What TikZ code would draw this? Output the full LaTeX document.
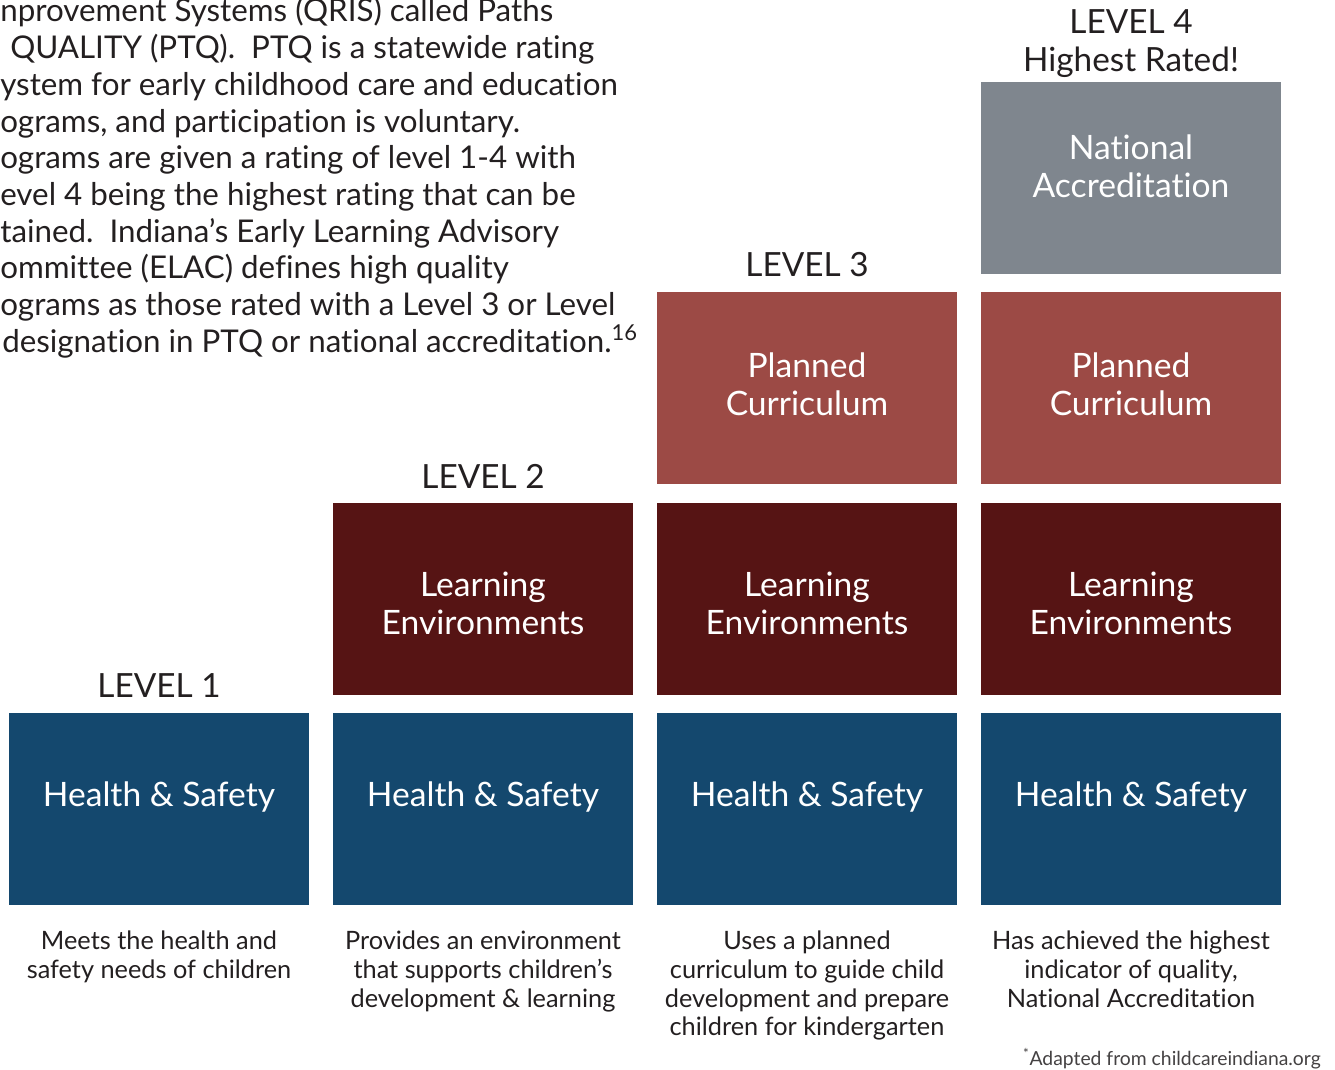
\documentclass[tikz,border=0pt]{standalone}
\usepackage{fontspec}
\setmainfont{Lato}[Ligatures=NoCommon]
\usetikzlibrary{positioning}

\definecolor{hsblue}{HTML}{14486E}
\definecolor{lered}{HTML}{561414}
\definecolor{pcred}{HTML}{9C4A45}
\definecolor{nagray}{HTML}{7F868E}
\definecolor{inkgray}{HTML}{231F20}

\tikzset{
  box/.style={rectangle,minimum width=225pt,minimum height=144pt,inner sep=0pt},
  boxtext/.style={text=white,align=center,inner sep=0pt,font=\fontsize{25.2}{28.5}\selectfont},
  level/.style={text=inkgray,align=center,inner sep=0pt,font=\fontsize{25}{28.5}\selectfont},
  desc/.style={text=inkgray,anchor=north,align=center,inner sep=0pt,font=\fontsize{19}{21.5}\selectfont},
  para/.style={text=inkgray,anchor=base west,inner sep=0pt,font=\fontsize{23.5}{27.5}\selectfont}
}

\begin{document}
\begin{tikzpicture}[x=0.75pt,y=-0.75pt]
\useasboundingbox (0,0) rectangle (1335,1070);

% text cut off on the left
\foreach \px/\t [count=\i] in {0/{nprovement Systems (QRIS) called Paths},
    10/{QUALITY (PTQ).\ \ PTQ is a statewide rating},
    0/{ystem for early childhood care and education},
    0/{ograms, and participation is voluntary.},
    0/{ograms are given a rating of level 1-4 with},
    0/{evel 4 being the highest rating that can be},
    0/{tained.\ \ Indiana’s Early Learning Advisory},
    0/{ommittee (ELAC) defines high quality},
    0/{ograms as those rated with a Level 3 or Level},
    2/{designation in PTQ or national accreditation.\textsuperscript{16}}}
  \node[para] (p\i) at (\px,{22+36.7*(\i-1)}) {\t};

% the four levels
\foreach \n/\x in {1/159,2/483,3/807,4/1131} {
  \node[box,fill=hsblue] (hs\n) at (\x,809) {};
  \node[boxtext] (hst\n) at (\x,797) {Health \& Safety};
}
\foreach \n/\x in {2/483,3/807,4/1131} {
  \node[box,fill=lered] (le\n) at (\x,599) {};
  \node[boxtext] (let\n) at (\x,603) {Learning\\Environments};
}
\foreach \n/\x in {3/807,4/1131} {
  \node[box,fill=pcred] (pc\n) at (\x,388) {};
  \node[boxtext] (pct\n) at (\x,384) {Planned\\Curriculum};
}
\node[box,fill=nagray] (na4) at (1131,178) {};
\node[boxtext] (nat4) at (1131,166) {National\\Accreditation};

\node[level] (lv1) at (159,686) {LEVEL 1};
\node[level] (lv2) at (483,476) {LEVEL 2};
\node[level] (lv3) at (807,265) {LEVEL 3};
\node[level] (lv4) at (1131,44) {LEVEL 4\\Highest Rated!};

\node[desc] (d1) at (159,931) {Meets the health and\\safety needs of children};
\node[desc] (d2) at (483,931) {Provides an environment\\that supports children’s\\development \& learning};
\node[desc] (d3) at (807,931) {Uses a planned\\curriculum to guide child\\development and prepare\\children for kindergarten};
\node[desc] (d4) at (1131,931) {Has achieved the highest\\indicator of quality,\\National Accreditation};

\node[text=inkgray!85,anchor=east,inner sep=0pt,font=\fontsize{14.5}{17}\selectfont] (src) at (1321,1059)
  {\textsuperscript{*}Adapted from childcareindiana.org};
\end{tikzpicture}
\end{document}
